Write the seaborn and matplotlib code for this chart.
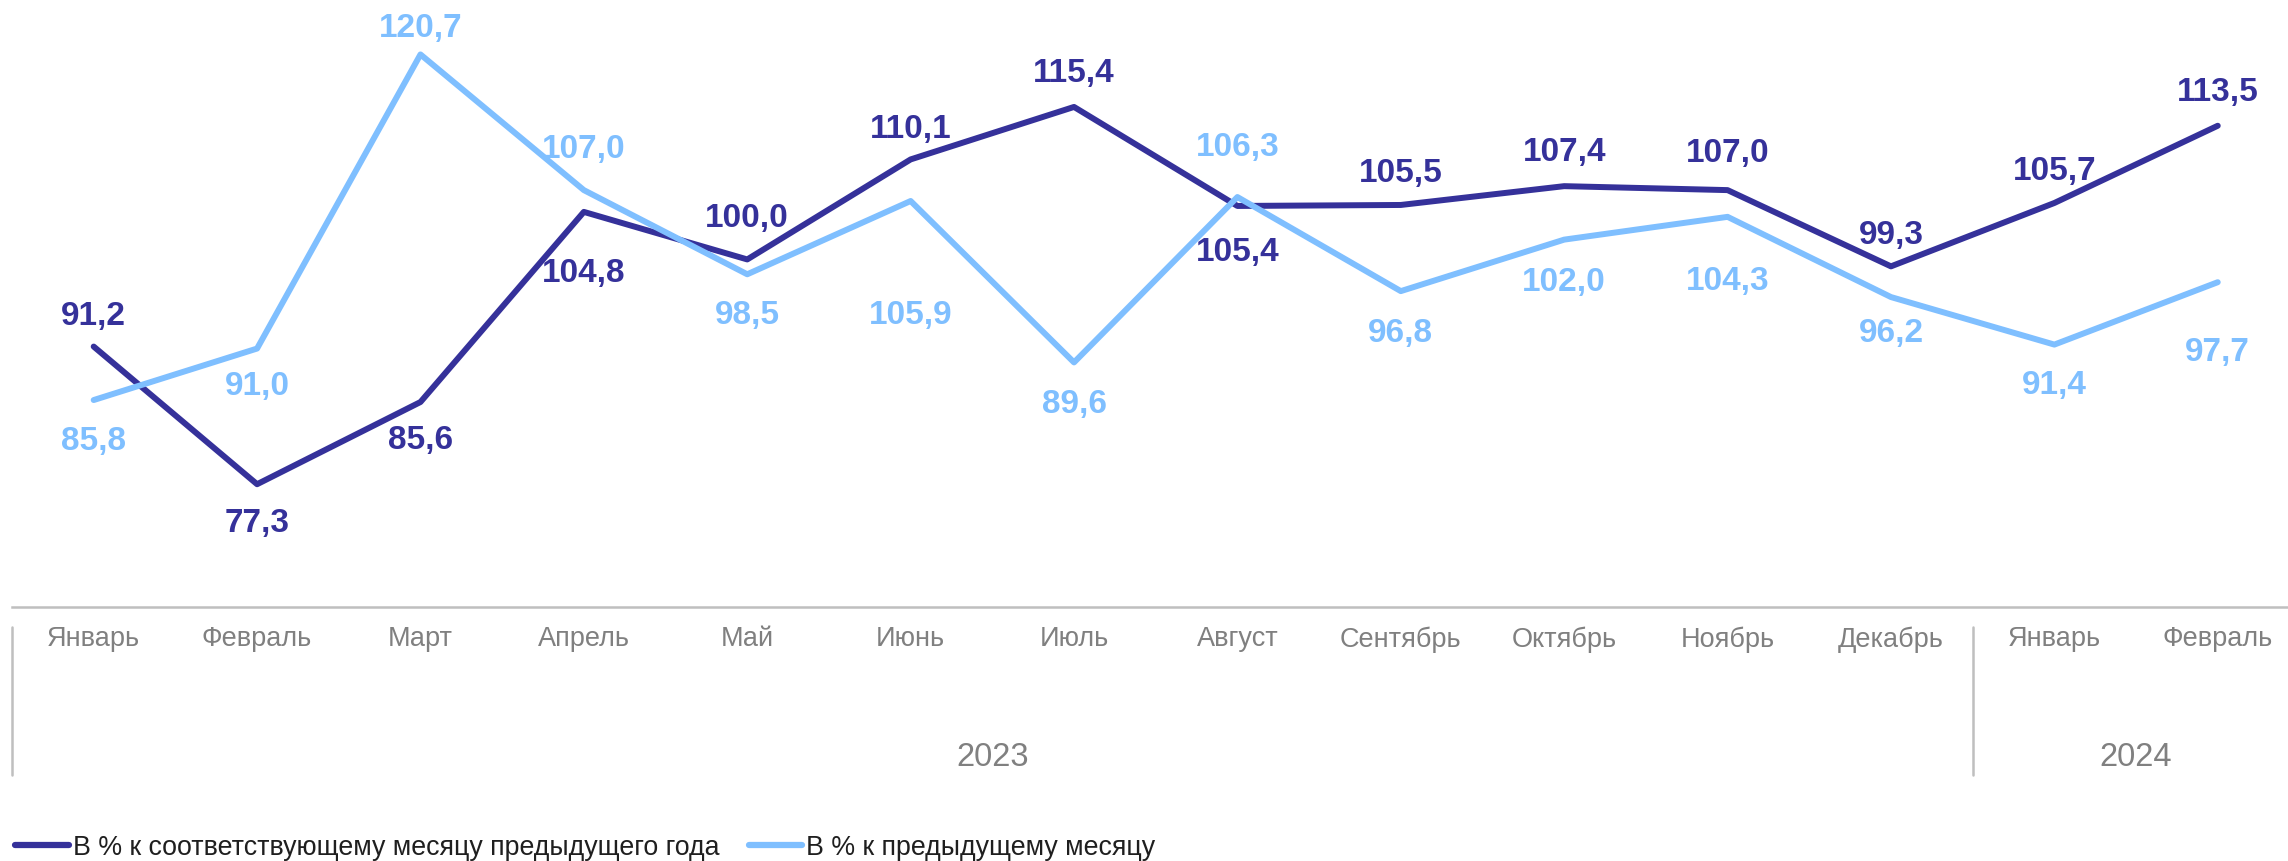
import pandas as pd
import numpy as np
import seaborn as sns
import matplotlib.pyplot as plt
import matplotlib.transforms as mtransforms

# data
months = ["Январь", "Февраль", "Март", "Апрель", "Май", "Июнь", "Июль",
          "Август", "Сентябрь", "Октябрь", "Ноябрь", "Декабрь", "Январь", "Февраль"]
years = ["2023", "2024"]
year_counts = [12, 2]

yoy = [91.2, 77.3, 85.6, 104.8, 100.0, 110.1, 115.4, 105.4, 105.5, 107.4, 107.0, 99.3, 105.7, 113.5]
mom = [85.8, 91.0, 120.7, 107.0, 98.5, 105.9, 89.6, 106.3, 96.8, 102.0, 104.3, 96.2, 91.4, 97.7]

series_names = ["В % к соответствующему месяцу предыдущего года", "В % к предыдущему месяцу"]

# label offsets in points (+ above the point, - below)
yoy_off = [22.6, -27.8, -26.8, -43.6, 29.9, 22.6, 24.7, -33, 23.6, 24.7, 26.8, 22.6, 23.6, 24.7]
mom_off = [-28.9, -26.8, 19.4, 29.9, -28.9, -81.4, -29.9, 36.2, -29.9, -29.9, -45.7, -25.7, -28.9, -49.9]

colors = ["#35319A", "#7FBFFF"]
gray = "#808080"
line_gray = "#BFBFBF"

sns.set_theme(style="white")
plt.rcParams['font.family'] = ['Liberation Sans', 'DejaVu Sans']

df = pd.DataFrame({
    "idx": list(range(len(months))) * 2,
    "value": yoy + mom,
    "series": [series_names[0]] * len(yoy) + [series_names[1]] * len(mom),
})

fig = plt.figure(figsize=(22.88, 8.62), dpi=100)
ax = fig.add_axes([12 / 2288, 254 / 862, 1 - 12 / 2288, 608 / 862])

sns.lineplot(data=df, x="idx", y="value", hue="series", hue_order=series_names,
             palette=colors, linewidth=4.3, ax=ax, legend=False)

# data labels
for vals, offs, c in [(yoy, yoy_off, colors[0]), (mom, mom_off, colors[1])]:
    for i, (v, o) in enumerate(zip(vals, offs)):
        ax.annotate(f"{v:.1f}".replace(".", ","), (i, v),
                    xytext=(0, o), textcoords="offset points",
                    ha="center", va="center", fontsize=24, fontweight="bold", color=c)

ax.set_xlim(-0.5, 13.43)
ax.set_ylim(64.9, 126.3)
ax.set_yticks([])
ax.set_xticks(range(len(months)))
ax.set_xticklabels(months)
ax.tick_params(axis="x", length=0, pad=13, labelsize=19.5, labelcolor=gray)
ax.set_xlabel("")
ax.set_ylabel("")

for sp in ["top", "left", "right"]:
    ax.spines[sp].set_visible(False)
ax.spines["bottom"].set_color(line_gray)
ax.spines["bottom"].set_linewidth(1.8)

# year groups
trans = mtransforms.blended_transform_factory(ax.transData, ax.transAxes)
bounds = [-0.5]
for n in year_counts:
    bounds.append(bounds[-1] + n)
for b in bounds[:-1]:
    ax.plot([b, b], [-0.033, -0.276], color=line_gray, linewidth=1.8,
            transform=trans, clip_on=False)
for yr, a, b in zip(years, bounds[:-1], bounds[1:]):
    ax.text((a + b) / 2, -0.2467, yr, transform=trans, ha="center", va="center",
            fontsize=23.5, color=gray)

# legend
handles = ax.get_lines()[:2]
leg = fig.legend(handles, series_names, loc="center left",
                 bbox_to_anchor=(15 / 2288, 14 / 862), ncol=2, frameon=False,
                 fontsize=19.3, handlelength=2.0, handletextpad=0.15,
                 columnspacing=1.1, borderpad=0, borderaxespad=0)
for t in leg.get_texts():
    t.set_color("#1F1F1F")
for h in leg.get_lines():
    h.set_linewidth(4.5)

fig.savefig("out.png", dpi=100)
